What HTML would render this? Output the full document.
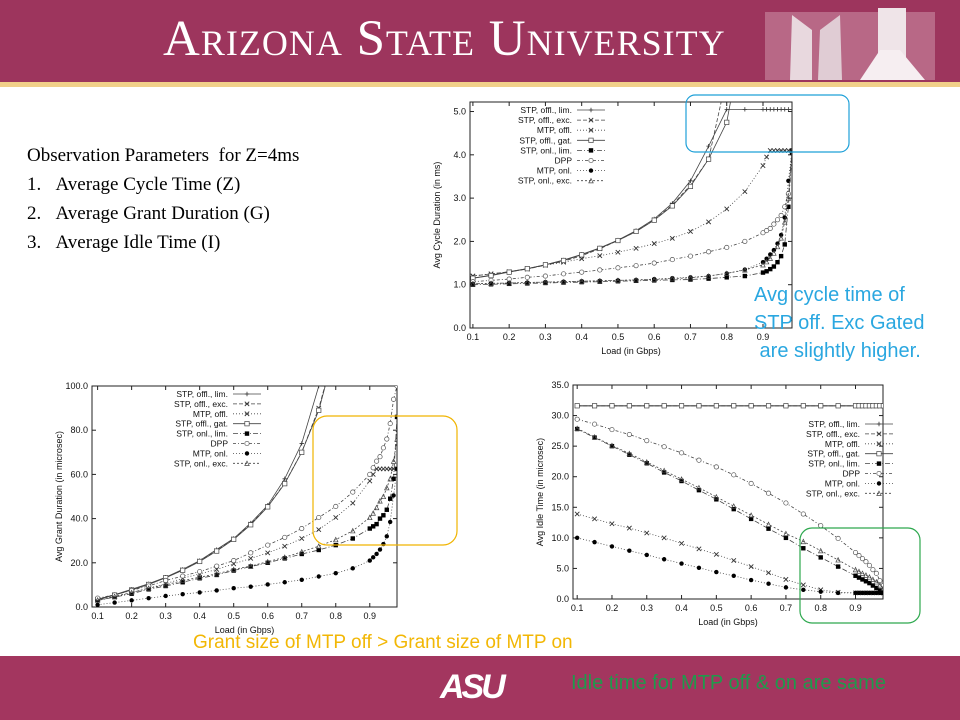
<!DOCTYPE html>
<html><head><meta charset="utf-8">
<style>
body{margin:0;width:960px;height:720px;overflow:hidden;background:#fff;font-family:"Liberation Sans",sans-serif;position:relative}
#hdr{position:absolute;left:0;top:0;width:960px;height:82px;background:#9d355d}
#gold{position:absolute;left:0;top:82px;width:960px;height:5px;background:#f1d08a}
#title{position:absolute;left:163px;top:10px;font-family:"Liberation Serif",serif;font-size:51px;color:#fff;font-variant:small-caps;letter-spacing:1px;white-space:nowrap}
#ftr{position:absolute;left:0;top:656px;width:960px;height:64px;background:#a3365f}
.obs{position:absolute;left:27px;font-family:"Liberation Serif",serif;font-size:19px;color:#000;white-space:nowrap}
.ann{position:absolute;font-size:20px;white-space:nowrap;z-index:5}
svg{position:absolute;left:0;top:0}
</style></head><body>
<div id="hdr"></div>
<div id="gold"></div>
<div id="title">Arizona State University</div>
<div id="ftr"></div>
<div class="obs" style="top:145px">Observation Parameters&nbsp; for Z=4ms</div>
<div class="obs" style="top:174px">1.&nbsp;&nbsp;&nbsp;Average Cycle Time (Z)</div>
<div class="obs" style="top:203px">2.&nbsp;&nbsp;&nbsp;Average Grant Duration (G)</div>
<div class="obs" style="top:232px">3.&nbsp;&nbsp;&nbsp;Average Idle Time (I)</div>
<svg id="svg" width="960" height="720">
<g>
<rect x="765" y="12" width="170" height="68" fill="#c98aa2" opacity="0.6"/>
<path d="M790 80 L792 15 L812 30 L812 80 Z" fill="#e8d8de"/>
<path d="M818 80 L820 30 L840 15 L842 80 Z" fill="#e0ccd4"/>
<rect x="878" y="8" width="28" height="60" fill="#efe4e8"/>
<path d="M860 80 L880 50 L900 50 L925 80 Z" fill="#f6eef1"/>
</g>
<g id="plots"></g>
<rect x="686" y="95" width="163" height="57" rx="9" fill="none" stroke="#1ea0d8" stroke-width="1.2"/>
<rect x="313" y="416" width="144" height="129" rx="14" fill="none" stroke="#f0b400" stroke-width="1.2"/>
<rect x="800" y="528" width="120" height="95" rx="12" fill="none" stroke="#2da84e" stroke-width="1.2"/>
</svg>
<div class="ann" style="left:754px;top:281px;color:#2aa7e0;line-height:28px">Avg cycle time of<br>STP off. Exc Gated<br>&nbsp;are slightly higher.</div>
<div class="ann" style="left:193px;top:632px;color:#f2b705;font-size:19px">Grant size of MTP off &gt; Grant size of MTP on</div>
<div class="ann" style="left:571px;top:672px;color:#1f9a4c">Idle time for MTP off &amp; on are same</div>
<div style="position:absolute;left:440px;top:668px;font:italic bold 34px 'Liberation Sans',sans-serif;color:#fff;letter-spacing:-3px;z-index:5">ASU</div>
<script>
const loads=[0.1,0.15,0.2,0.25,0.3,0.35,0.4,0.45,0.5,0.55,0.6,0.65,0.7,0.75,0.8,0.85,0.9,0.91,0.92,0.93,0.94,0.95,0.96,0.97,0.98];
const seriesNames=["STP, offl., lim.","STP, offl., exc.","MTP, offl.","STP, offl., gat.","STP, onl., lim.","DPP","MTP, onl.","STP, onl., exc."];
const cycleLim=[1.15,1.22,1.3,1.37,1.46,1.57,1.7,1.85,2.03,2.25,2.52,2.88,3.4,4.2,5.05,5.05,5.05,5.05,5.05,5.05,5.05,5.05,5.05,5.05,5.05];
const cycleExc=[1.2,1.25,1.3,1.36,1.45,1.54,1.67,1.83,2.02,2.23,2.5,2.84,3.3,3.9,5.8,7,8,8,8,8,8,8,8,8,8];
const cycleMtpOff=[1.2,1.25,1.3,1.37,1.45,1.52,1.6,1.67,1.75,1.84,1.95,2.07,2.23,2.45,2.75,3.15,3.75,3.95,4.1,4.1,4.1,4.1,4.1,4.1,4.1];
const cycleGat=[1.15,1.21,1.29,1.37,1.46,1.56,1.69,1.84,2.02,2.23,2.49,2.82,3.27,3.9,4.75,7,8,8,8,8,8,8,8,8,8];
const cycleOnlLim=[1.0,1.01,1.02,1.03,1.04,1.05,1.06,1.07,1.08,1.09,1.1,1.11,1.12,1.14,1.17,1.2,1.28,1.31,1.36,1.42,1.52,1.66,1.93,2.8,4.05];
const cycleDpp=[1.07,1.1,1.13,1.17,1.2,1.25,1.29,1.34,1.39,1.44,1.5,1.58,1.66,1.76,1.86,2.0,2.2,2.25,2.3,2.4,2.5,2.6,2.8,3.1,4.1];
const cycleMtpOnl=[1.02,1.03,1.04,1.05,1.06,1.07,1.08,1.09,1.1,1.11,1.13,1.15,1.17,1.2,1.26,1.35,1.52,1.6,1.7,1.8,1.95,2.15,2.55,3.4,4.1];
const cycleOnlExc=[1.02,1.03,1.04,1.05,1.06,1.07,1.08,1.09,1.1,1.11,1.12,1.14,1.16,1.2,1.26,1.34,1.46,1.53,1.61,1.73,1.88,2.08,2.45,3.0,4.1];
const grantLim=[3.5,5.5,8,10.5,13.5,17,21,26,31,38,46,58,74,100,130,160,190,200,200,200,200,200,200,200,200];
const grantExc=[3.5,5.5,7.8,10.3,13.3,16.8,20.8,25.5,30.8,37.5,45.5,56,70,90,118,150,180,200,200,200,200,200,200,200,200];
const grantMtpOff=[3,4.5,6.5,8.5,10.5,13,15,17,19.5,22,24.5,27.5,31,35,40.5,47,57,60,62.5,62.5,62.5,62.5,62.5,62.5,62.5];
const grantGat=[3.4,5.4,7.7,10.2,13.2,16.6,20.6,25.3,30.6,37.2,45.3,55.8,70,89,118,150,180,200,200,200,200,200,200,200,200];
const grantOnlLim=[3,4.5,6,8,9.5,11.2,13,14.5,16.5,18.3,20,22,24,25.8,28,31,35.5,36.5,37.5,40,41.5,44,49,58,86];
const grantDpp=[4,5.5,7.5,9.5,12,14,16,18.5,21,24.5,28,31.5,35.5,40.5,45.5,52,60,63,66,68,72,76,83,94,100];
const grantMtpOnl=[1,2,3,4,5,5.8,6.6,7.5,8.5,9.2,10.2,11.2,12.3,13.8,15.3,17.5,21,22.5,24,26,28.5,32,38.5,50.5,62.5];
const grantOnlExc=[3.2,4.8,6.5,8.5,10,12,13.5,15,17,18.5,20.5,22.5,25,27.5,30.5,34.5,40.5,42.5,45,48,50,54,58,66,76];
const idleLim=[31.6,31.6,31.6,31.6,31.6,31.6,31.6,31.6,31.6,31.6,31.6,31.6,31.6,31.6,31.6,31.6,31.6,31.6,31.6,31.6,31.6,31.6,31.6,31.6,31.6];
const idleExc=[31.6,31.6,31.6,31.6,31.6,31.6,31.6,31.6,31.6,31.6,31.6,31.6,31.6,31.6,31.6,31.6,31.6,31.6,31.6,31.6,31.6,31.6,31.6,31.6,31.6];
const idleMtpOff=[13.9,13.1,12.3,11.6,10.8,10,9.1,8.2,7.3,6.3,5.3,4.3,3.2,2.3,1.5,1.1,1,1,1,1,1,1,1,1,1];
const idleGat=[31.6,31.6,31.6,31.6,31.6,31.6,31.6,31.6,31.6,31.6,31.6,31.6,31.6,31.6,31.6,31.6,31.6,31.6,31.6,31.6,31.6,31.6,31.6,31.6,31.6];
const idleOnlLim=[27.8,26.4,25,23.6,22.2,20.7,19.3,17.8,16.3,14.7,13.1,11.5,10,8.3,6.8,5.3,3.8,3.5,3.2,2.9,2.6,2.2,1.8,1.4,1.0];
const idleDpp=[29.4,28.6,27.7,26.9,25.9,24.9,23.9,22.7,21.6,20.3,18.9,17.3,15.7,13.9,12,9.9,7.6,7.1,6.6,6.1,5.5,4.8,4.2,3.0,2.2];
const idleMtpOnl=[10,9.3,8.6,7.9,7.2,6.5,5.8,5.1,4.4,3.8,3.1,2.5,1.9,1.5,1.2,1.0,1.0,1.0,1.0,1.0,1.0,1.0,1.0,1.0,1.0];
const idleOnlExc=[27.9,26.5,25.1,23.8,22.4,21,19.6,18.2,16.7,15.2,13.7,12.2,10.7,9.4,7.9,6.4,4.8,4.5,4.2,3.9,3.6,3.2,2.8,2.3,1.8];
const xTicks=["0.1","0.2","0.3","0.4","0.5","0.6","0.7","0.8","0.9"];
const cycleTicks=["0.0","1.0","2.0","3.0","4.0","5.0"];
const grantTicks=["0.0","20.0","40.0","60.0","80.0","100.0"];
const idleTicks=["0.0","5.0","10.0","15.0","20.0","25.0","30.0","35.0"];

const NS="http://www.w3.org/2000/svg";
const svg=document.getElementById('plots');
const styles=[["",'plus'],["4 2",'x'],["1 2",'star'],["",'osq'],["5 2 1 2",'fsq'],["3 2 1 2",'oc'],["1 2",'fc'],["2 2",'tri']];
function mk(tag,attrs,parent){const e=document.createElementNS(NS,tag);for(const k in attrs)e.setAttribute(k,attrs[k]);parent.appendChild(e);return e;}
function marker(g,type,x,y){
  const s=2.2;let e;
  if(type==='plus'){e=mk('path',{d:`M${x-s} ${y}H${x+s}M${x} ${y-s}V${y+s}`,stroke:'#333','stroke-width':0.8},g);}
  else if(type==='x'||type==='star'){e=mk('path',{d:`M${x-s} ${y-s}L${x+s} ${y+s}M${x-s} ${y+s}L${x+s} ${y-s}`,stroke:'#333','stroke-width':0.9},g);}
  else if(type==='osq'){e=mk('rect',{x:x-s,y:y-s,width:2*s,height:2*s,fill:'#fff',stroke:'#444','stroke-width':0.7},g);}
  else if(type==='fsq'){e=mk('rect',{x:x-s,y:y-s,width:2*s,height:2*s,fill:'#000'},g);}
  else if(type==='oc'){e=mk('circle',{cx:x,cy:y,r:s,fill:'#fff',stroke:'#555','stroke-width':0.7},g);}
  else if(type==='fc'){e=mk('circle',{cx:x,cy:y,r:s,fill:'#000'},g);}
  else {e=mk('path',{d:`M${x} ${y-s}L${x+s} ${y+s}L${x-s} ${y+s}Z`,fill:'none',stroke:'#444','stroke-width':0.7},g);}
  
  
}
function chart(cfg){
  const {id,L,R,T,B,xmin,xmax,ymax,yTicks,series,yTitle,leg}=cfg;
  const g=mk('g',{},svg);
  
  
  const X=v=>L+(v-xmin)/(xmax-xmin)*(R-L);
  const Y=v=>B-v/ymax*(B-T);
  const cp=mk('clipPath',{id:id+'-clip'},g);mk('rect',{x:L,y:T,width:R-L,height:B-T},cp);
  const frame=mk('rect',{x:L,y:T,width:R-L,height:B-T,fill:'#fff',stroke:'#222','stroke-width':1},g);
  
  
  xTicks.forEach(t=>{const x=X(+t);mk('line',{x1:x,x2:x,y1:B,y2:B-4,stroke:'#222'},g);mk('line',{x1:x,x2:x,y1:T,y2:T+4,stroke:'#222'},g);
    const tx=mk('text',{x:x,y:B+12,'font-size':9,'text-anchor':'middle',fill:'#111'},g);tx.textContent=t;
    
    });
  yTicks.forEach(t=>{const y=Y(+t);mk('line',{x1:L,x2:L+4,y1:y,y2:y,stroke:'#222'},g);mk('line',{x1:R,x2:R-4,y1:y,y2:y,stroke:'#222'},g);
    const tx=mk('text',{x:L-4,y:y+3,'font-size':9,'text-anchor':'end',fill:'#111'},g);tx.textContent=t;
    
    });
  const xt=mk('text',{x:(L+R)/2,y:B+26,'font-size':9,'text-anchor':'middle',fill:'#111'},g);xt.textContent='Load (in Gbps)';
  
  
  const yx=L-30,yy=(T+B)/2;
  const yt=mk('text',{x:yx,y:yy,'font-size':9,'text-anchor':'middle',fill:'#111',transform:`rotate(-90 ${yx} ${yy})`},g);yt.textContent=yTitle;
  
  
  const pg=mk('g',{'clip-path':`url(#${id}-clip)`},g);
  series.forEach((vals,i)=>{
    const sg=mk('g',{},pg);
    
    
    const n=Math.min(vals.length,loads.length);
    let d='';for(let k=0;k<n;k++)d+=(k?'L':'M')+X(loads[k]).toFixed(1)+' '+Y(vals[k]).toFixed(1);
    const p=mk('path',{d:d,fill:'none',stroke:'#444','stroke-width':0.8,'stroke-dasharray':styles[i][0]},sg);
    
    
    for(let k=0;k<n;k++)marker(sg,styles[i][1],X(loads[k]),Y(vals[k]));
  });
  const lg=mk('g',{},g);
  
  
  seriesNames.forEach((nm,i)=>{
    const y=leg.y+i*leg.dy;
    const t=mk('text',{x:leg.x,y:y+3,'font-size':8.5,'text-anchor':'end',fill:'#111'},lg);t.textContent=nm;
    
    
    mk('line',{x1:leg.x+5,x2:leg.x+33,y1:y,y2:y,stroke:'#444','stroke-width':0.8,'stroke-dasharray':styles[i][0]},lg);
    marker(lg,styles[i][1],leg.x+19,y);
  });
}
chart({id:'cycle-chart',L:470,R:792,T:102,B:328,xmin:0.092,xmax:0.98,ymax:5.22,yTicks:cycleTicks,yTitle:'Avg Cycle Duration (in ms)',
  series:[cycleLim,cycleExc,cycleMtpOff,cycleGat,cycleOnlLim,cycleDpp,cycleMtpOnl,cycleOnlExc],leg:{x:572,y:110,dy:10.1}});
chart({id:'grant-chart',L:92,R:397,T:386,B:607,xmin:0.0835,xmax:0.98,ymax:100,yTicks:grantTicks,yTitle:'Avg Grant Duration (in microsec)',
  series:[grantLim,grantExc,grantMtpOff,grantGat,grantOnlLim,grantDpp,grantMtpOnl,grantOnlExc],leg:{x:228,y:394,dy:9.9}});
chart({id:'idle-chart',L:573,R:883,T:385,B:599,xmin:0.088,xmax:0.979,ymax:35,yTicks:idleTicks,yTitle:'Avg Idle Time (in microsec)',
  series:[idleLim,idleExc,idleMtpOff,idleGat,idleOnlLim,idleDpp,idleMtpOnl,idleOnlExc],leg:{x:860,y:424,dy:9.9}});
</script>
</body></html>
